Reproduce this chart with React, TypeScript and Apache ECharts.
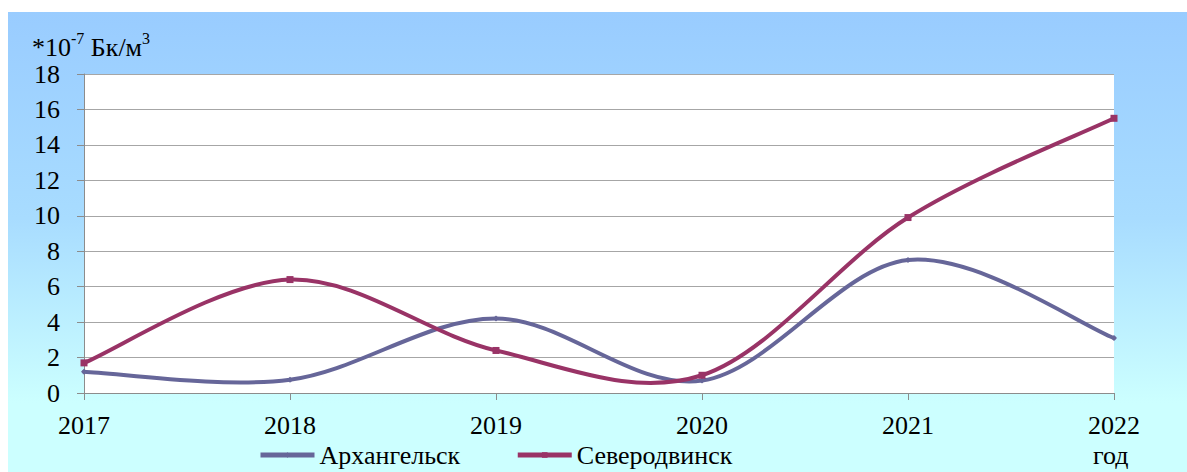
import React, { useEffect, useRef } from "react";
import * as echarts from "echarts";

const years = ["2017", "2018", "2019", "2020", "2021", "2022"];
const arkhangelsk = [1.2, 0.75, 4.2, 0.7, 7.5, 3.1];
const severodvinsk = [1.7, 6.4, 2.4, 1.0, 9.9, 15.5];
const seriesNames = ["Архангельск", "Северодвинск"];
const seriesColors = ["#666699", "#993366"];

const FONT = "Liberation Serif";

// Excel-like smoothed segment (Catmull-Rom style, tangent factor 1/6)
function makeSmoothRender(values: number[], color: string) {
  return (params: any, api: any) => {
    const i = params.dataIndex;
    const n = values.length;
    if (i >= n - 1) return null;
    const p = (k: number) => {
      const kk = Math.max(0, Math.min(n - 1, k));
      return api.coord([kk, values[kk]]);
    };
    const p0 = p(i - 1);
    const p1 = p(i);
    const p2 = p(i + 1);
    const p3 = p(i + 2);
    const f = 1 / 6;
    return {
      type: "bezierCurve",
      shape: {
        x1: p1[0],
        y1: p1[1],
        cpx1: p1[0] + (p2[0] - p0[0]) * f,
        cpy1: p1[1] + (p2[1] - p0[1]) * f,
        cpx2: p2[0] - (p3[0] - p1[0]) * f,
        cpy2: p2[1] - (p3[1] - p1[1]) * f,
        x2: p2[0],
        y2: p2[1],
      },
      style: { stroke: color, lineWidth: 4, fill: "none", lineCap: "round" },
    };
  };
}

export default function App() {
  const ref = useRef<HTMLDivElement>(null);
  useEffect(() => {
    if (!ref.current) return;
    const chart = echarts.init(ref.current, null, { renderer: "svg" });
    const curveSeries = [arkhangelsk, severodvinsk].map((vals, s) => ({
      type: "custom",
      name: seriesNames[s] + "_curve",
      renderItem: makeSmoothRender(vals, seriesColors[s]),
      data: vals.map((v, i) => [i, v]),
      encode: { x: 0, y: 1 },
      silent: true,
      z: 2,
    }));
    chart.setOption({
      animation: false,
      backgroundColor: "transparent",
      grid: {
        left: 76,
        right: 73,
        top: 62,
        bottom: 79,
        show: true,
        backgroundColor: "#ffffff",
        borderWidth: 0,
      },
      legend: {
        left: 245,
        top: 425,
        itemWidth: 54,
        itemHeight: 7,
        itemGap: 55,
        textStyle: { fontFamily: FONT, fontSize: 26, color: "#000" },
        data: seriesNames.map((n, s) => ({
          name: n,
          lineStyle: { color: seriesColors[s], width: 5, opacity: 1 },
          itemStyle: { color: seriesColors[s] },
          textStyle: { fontFamily: FONT, fontSize: 26, color: "#000" },
        })),
      },
      xAxis: {
        type: "category",
        data: years,
        boundaryGap: false,
        axisLine: { show: true, lineStyle: { color: "#8c8c8c", width: 1 } },
        axisTick: { show: true, length: 7, lineStyle: { color: "#8c8c8c" } },
        axisLabel: { fontFamily: FONT, fontSize: 26, color: "#000", margin: 19 },
        splitLine: { show: false },
      },
      yAxis: {
        type: "value",
        min: 0,
        max: 18,
        interval: 2,
        axisLine: { show: true, lineStyle: { color: "#8c8c8c", width: 1 } },
        axisTick: { show: true, length: 7, lineStyle: { color: "#8c8c8c" } },
        axisLabel: { fontFamily: FONT, fontSize: 26, color: "#000", margin: 24 },
        splitLine: { show: true, lineStyle: { color: "#a6a6a6", width: 1 } },
      },
      graphic: [
        {
          type: "text",
          left: 24,
          top: 18,
          style: {
            text: "{a|*10}{s|-7}{a| Бк/м}{s|3}",
            fontFamily: FONT,
            rich: {
              a: { fontFamily: FONT, fontSize: 26, fill: "#000", verticalAlign: "bottom", lineHeight: 30 },
              s: { fontFamily: FONT, fontSize: 16, fill: "#000", verticalAlign: "top", lineHeight: 16 },
            },
          },
        },
        {
          type: "text",
          left: 1085,
          top: 430,
          style: { text: "год", fontFamily: FONT, fontSize: 26, fill: "#000" },
        },
      ],
      series: [
        ...curveSeries,
        {
          name: seriesNames[0],
          type: "line",
          data: arkhangelsk,
          symbol: "diamond",
          symbolSize: 6,
          showSymbol: true,
          lineStyle: { color: seriesColors[0], width: 4, opacity: 0 },
          itemStyle: { color: seriesColors[0] },
          z: 3,
        },
        {
          name: seriesNames[1],
          type: "line",
          data: severodvinsk,
          symbol: "rect",
          symbolSize: 7,
          showSymbol: true,
          lineStyle: { color: seriesColors[1], width: 4, opacity: 0 },
          itemStyle: { color: seriesColors[1] },
          z: 3,
        },
      ],
    });
    return () => chart.dispose();
  }, []);
  return (
    <div
      ref={ref}
      style={{
        position: "absolute",
        left: 8,
        top: 12,
        width: 1179,
        height: 460,
        background: "linear-gradient(to bottom, #99ccff 0%, #a8dcff 45%, #ccffff 85%, #ccffff 100%)",
      }}
    />
  );
}
